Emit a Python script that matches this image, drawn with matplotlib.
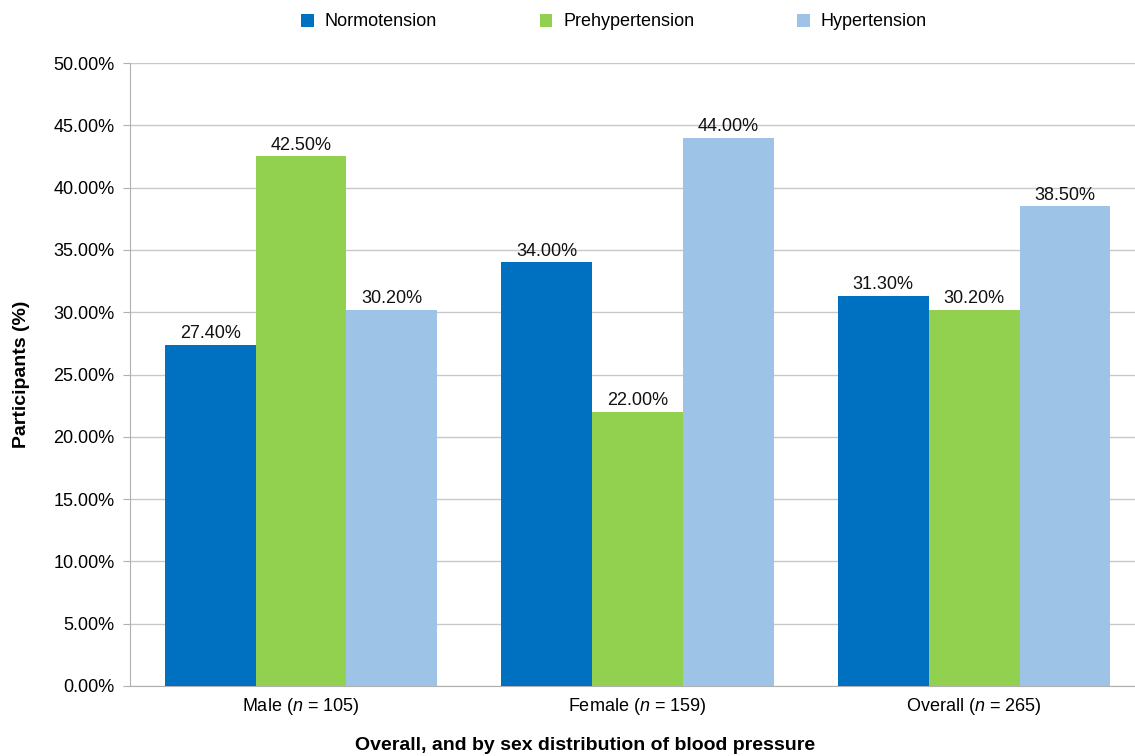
import matplotlib
matplotlib.use('Agg')
import matplotlib.pyplot as plt
from matplotlib.ticker import FuncFormatter, MultipleLocator
import numpy as np

plt.rcParams.update({'font.family': ['Liberation Sans', 'DejaVu Sans'],
                     'mathtext.fontset': 'custom',
                     'mathtext.it': 'Liberation Sans:italic',
                     'mathtext.rm': 'Liberation Sans'})

# 데이터
groups = ['Male ($\\mathit{n}$ = 105)', 'Female ($\\mathit{n}$ = 159)', 'Overall ($\\mathit{n}$ = 265)']
series = ['Normotension', 'Prehypertension', 'Hypertension']
normo = [27.4, 34.0, 31.3]
prehyper = [42.5, 22.0, 30.2]
hyper = [30.2, 44.0, 38.5]
colors = ['#0070C0', '#92D050', '#9DC3E6']

FS = 13

fig = plt.figure(figsize=(11.35, 7.56), dpi=100)
ax = fig.add_axes([130/1135, 1 - 686/756, 1005/1135, (686-63)/756])

x = np.arange(len(groups))
w = 0.27
for i, (vals, name, col) in enumerate(zip([normo, prehyper, hyper], series, colors)):
    bars = ax.bar(x + (i - 1) * w, vals, w, color=col, label=name, zorder=3)
    for b, v in zip(bars, vals):
        ax.annotate(f'{v:.2f}%', (b.get_x() + b.get_width() / 2, v),
                    xytext=(0, 2), textcoords='offset points',
                    ha='center', va='bottom', fontsize=FS, color='#111')

ax.set_xlim(-0.508, 2.478)
ax.set_ylim(0, 50)
ax.yaxis.set_major_locator(MultipleLocator(5))
ax.yaxis.set_major_formatter(FuncFormatter(lambda v, p: f'{v:.2f}%'))
ax.set_xticks(x)
ax.set_xticklabels(groups, fontsize=FS)
ax.tick_params(axis='y', labelsize=FS, length=5, color='#b0b0b0', pad=6)
ax.tick_params(axis='x', length=0, pad=7)
ax.grid(axis='y', color='#c8c8c8', lw=1.0, zorder=0)
for s in ['top', 'right']:
    ax.spines[s].set_visible(False)
for s in ['left', 'bottom']:
    ax.spines[s].set_color('#b0b0b0')

ax.set_ylabel('Participants (%)', fontsize=14, fontweight='bold', labelpad=17)
fig.text(585/1135, 1 - 745/756, 'Overall, and by sex distribution of blood pressure',
         ha='center', va='center', fontsize=14, fontweight='bold')

fig.legend(loc='center', bbox_to_anchor=(614/1135, 1 - 22/756), ncol=3, frameon=False,
           fontsize=FS, handlelength=0.7, handleheight=0.7, handletextpad=0.6,
           columnspacing=5.7)

fig.savefig('out.png', dpi=100)
